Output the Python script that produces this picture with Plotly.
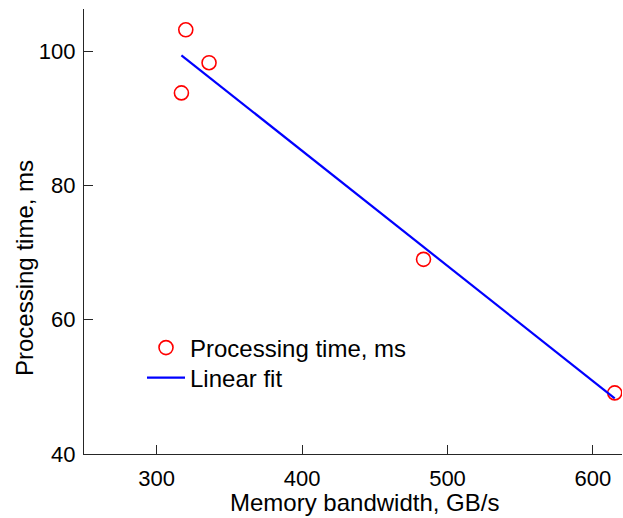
import plotly.graph_objects as go

# Data
bandwidth = [320, 336, 317, 483.5, 615]        # GB/s
proc_time = [103.2, 98.3, 93.8, 69.0, 49.1]    # ms

fit_x = [317, 615]
fit_y = [99.4, 48.3]

x_ticks = [300, 400, 500, 600]
y_ticks = [40, 60, 80, 100]

FONT = "Liberation Sans, Arial, sans-serif"
FS = 22      # tick labels
FS_T = 24    # axis titles / legend

# plot area in pixels (reference)
L, R, T, B = 84, 622, 9, 454
W, H = 623, 518

def px_x(p):
    return (p - L) / (R - L)

def px_y(p):
    return (B - p) / (B - T)

fig = go.Figure()
fig.add_trace(go.Scatter(
    x=bandwidth, y=proc_time, mode="markers", name="Processing time, ms",
    marker=dict(symbol="circle-open", size=14, color="#ff0000",
                line=dict(width=1.6, color="#ff0000")),
    legend="legend",
))
fig.add_trace(go.Scatter(
    x=fit_x, y=fit_y, mode="lines", name="Linear fit",
    line=dict(color="#0000ff", width=2.2),
    legend="legend2",
))

leg_common = dict(xanchor="left", yanchor="middle", bgcolor="rgba(0,0,0,0)",
                  font=dict(size=FS_T, family=FONT), itemwidth=38)

fig.update_layout(
    width=W, height=H,
    margin=dict(l=L, r=W - R, t=T, b=H - B, autoexpand=False),
    paper_bgcolor="white", plot_bgcolor="white",
    font=dict(family=FONT, size=FS, color="#000000"),
    showlegend=True,
    legend=dict(x=px_x(142), y=px_y(348), **leg_common),
    legend2=dict(x=px_x(142), y=px_y(378), **leg_common),
    xaxis=dict(range=[250, 620], tickvals=x_ticks, ticks="inside", ticklen=9,
               tickwidth=1, tickcolor="#262626", showline=True, linecolor="#262626",
               linewidth=1.3, showgrid=False, zeroline=False, mirror=False,
               automargin=False, ticklabelstandoff=4,
               tickfont=dict(size=FS, family=FONT)),
    yaxis=dict(range=[40, 106.3], tickvals=y_ticks, ticks="inside", ticklen=9,
               tickwidth=1, tickcolor="#262626", showline=True, linecolor="#262626",
               linewidth=1.3, showgrid=False, zeroline=False, mirror=False,
               automargin=False, ticklabelstandoff=3,
               tickfont=dict(size=FS, family=FONT)),
    annotations=[
        dict(text="Memory bandwidth, GB/s", xref="paper", yref="paper",
             x=px_x(364), y=px_y(502), xanchor="center", yanchor="middle",
             showarrow=False, font=dict(size=FS_T, family=FONT)),
        dict(text="Processing time, ms", xref="paper", yref="paper",
             x=px_x(24), y=px_y(268), xanchor="center", yanchor="middle",
             textangle=-90, showarrow=False, font=dict(size=FS_T, family=FONT)),
    ],
)

fig.write_html("out.html", config={"displayModeBar": False},
               post_script="document.body.style.margin='0';document.body.style.overflow='hidden';")
